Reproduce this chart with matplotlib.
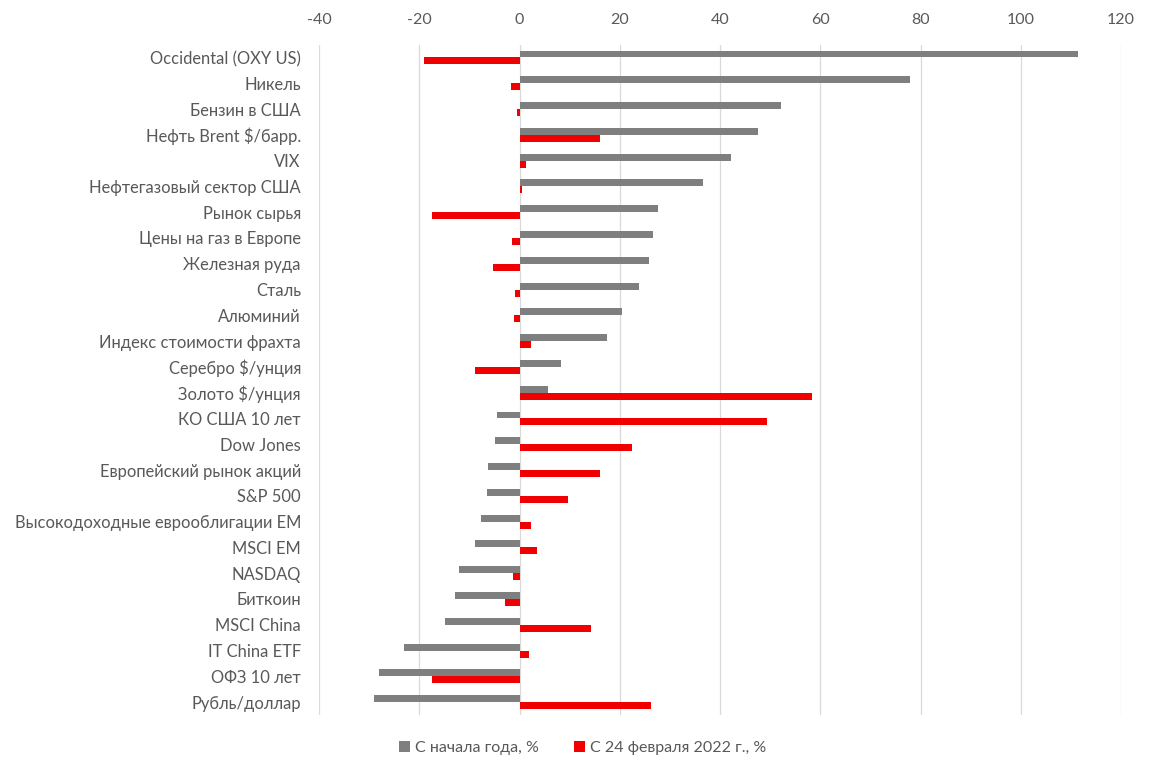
import matplotlib
matplotlib.use("Agg")
import matplotlib.pyplot as plt
import numpy as np

categories = [
    "Occidental (OXY US)", "Никель", "Бензин в США", "Нефть Brent $/барр.", "VIX",
    "Нефтегазовый сектор США", "Рынок сырья", "Цены на газ в Европе", "Железная руда",
    "Сталь", "Алюминий", "Индекс стоимости фрахта", "Серебро $/унция", "Золото $/унция",
    "КО США 10 лет", "Dow Jones", "Европейский рынок акций", "S&P 500",
    "Высокодоходные еврооблигации EM", "MSCI EM", "NASDAQ", "Биткоин", "MSCI China",
    "IT China ETF", "ОФЗ 10 лет", "Рубль/доллар",
]
ytd = [111.5, 77.9, 52.2, 47.5, 42.1, 36.6, 27.6, 26.7, 25.9, 23.8, 20.5, 17.5, 8.3,
       5.7, -4.5, -4.8, -6.2, -6.4, -7.6, -8.8, -12.0, -12.8, -14.8, -23.1, -28.1, -29.1]
since_feb24 = [-19.0, -1.6, -0.4, 16.1, 1.2, 0.5, -17.5, -1.4, -5.2, -0.8, -1.0, 2.2, -8.8,
               58.3, 49.4, 22.4, 16.0, 9.7, 2.2, 3.4, -1.2, -2.8, 14.2, 1.9, -17.5, 26.2]
series_names = ["С начала года, %", "С 24 февраля 2022 г., %"]
xticks = [-40, -20, 0, 20, 40, 60, 80, 100, 120]

plt.rcParams['font.family'] = ['Lato', 'DejaVu Sans']
text_color = '#595959'

W, H = 1154, 775
fig = plt.figure(figsize=(W / 100, H / 100), dpi=100)
ax = fig.add_axes([319 / W, 1 - 715 / H, (1121 - 319) / W, (715 - 44.6) / H])

n = len(categories)
y = np.arange(n)
h = 0.27
ax.barh(y - h / 2, ytd, height=h, color='#7F7F7F', label=series_names[0], zorder=3)
ax.barh(y + h / 2, since_feb24, height=h, color='#F00000', label=series_names[1], zorder=3)

ax.set_ylim(n - 0.5, -0.5)
ax.set_xlim(-40, 120)
ax.set_yticks(y)
ax.set_yticklabels(categories, fontsize=11.9, color=text_color)
ax.set_xticks(xticks)
ax.set_xticklabels([str(t) for t in xticks], fontsize=11.5, color=text_color)
ax.xaxis.tick_top()
ax.tick_params(axis='both', length=0)
ax.tick_params(axis='x', pad=13)
ax.tick_params(axis='y', pad=13)
ax.grid(axis='x', color='#D9D9D9', linewidth=0.9, zorder=0)
for s in ax.spines.values():
    s.set_visible(False)

fig.legend(loc='center', bbox_to_anchor=(0.505, 1 - 748 / H), ncol=2, frameon=False,
           fontsize=11.5, labelcolor=text_color, handlelength=0.7, handleheight=0.7,
           handletextpad=0.3, columnspacing=2.2)

fig.savefig('out.png', dpi=100)
